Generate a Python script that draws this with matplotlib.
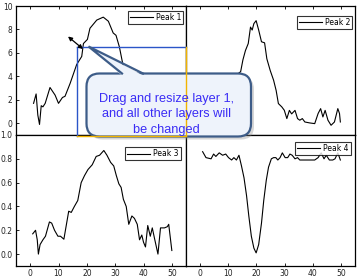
import matplotlib
matplotlib.use("Agg")
import matplotlib.pyplot as plt
from matplotlib.patches import FancyBboxPatch, Polygon

# ---------------- data ----------------
x1 = [1.2, 2.1, 2.7, 3.3, 3.9, 4.5, 5.3, 7.0, 8.8, 10.0, 11.4, 12.3, 14.1, 16.4, 18.2,
      18.8, 20.2, 21.1, 23.5, 25.8, 27.6, 29.3, 30.3, 31.5, 32.9, 33.9, 34.8, 35.9, 36.8, 37.8,
      38.6, 39.4, 40.0, 40.7, 41.5, 42.4, 43.1, 43.9, 45.1, 46.0, 47.4, 48.4, 48.9, 50.0]
y1 = [1.7, 2.5, 0.7, -0.1, 1.5, 1.4, 1.7, 3.05, 2.4, 1.7, 2.2, 2.3, 3.4, 5.0, 5.7,
      6.8, 7.15, 8.1, 8.8, 9.05, 8.7, 7.7, 7.5, 6.5, 4.8, 4.1, 2.6, 3.3, 3.1, 2.6,
      1.2, 1.6, 1.0, 0.6, 2.5, 1.5, 2.3, 1.3, 0.0, 2.3, 2.3, 2.4, 2.6, 0.3]

x2 = [1, 2, 3, 4, 5, 6, 7, 8, 9, 10, 11, 12, 13,
      13.6, 14.4, 15.2, 16.1, 17.1, 17.9, 18.5, 19.1, 19.9, 20.8, 21.8, 22.9, 23.7, 24.9, 26.1,
      27.0, 27.8, 29.0, 29.9, 30.8, 31.7, 32.5, 33.7, 34.6, 35.4, 36.3, 37.2, 38.9, 40.7, 41.9,
      42.8, 43.6, 44.4, 45.4, 46.5, 47.7, 48.9, 49.5, 49.8]
y2 = [0.8, 0.4, 1.1, 0.6, 0.9, 0.3, 1.0, 0.7, 1.3, 1.6, 2.2, 2.9, 3.6,
      4.25, 4.4, 5.4, 6.2, 6.8, 8.2, 7.95, 8.5, 8.75, 7.95, 6.95, 6.86, 5.5, 4.5, 3.67,
      2.8, 1.68, 1.4, 1.11, 0.4, 1.1, 0.8, 1.1, 0.4, 0.26, 0.4, 0.11, 0.03, -0.03, 0.83,
      1.25, 0.54, 1.1, 0.26, -0.17, 0.11, 1.25, 0.83, 0.11]

x3 = [0.9, 1.9, 2.5, 2.9, 3.5, 4.5, 5.4, 6.8, 7.6, 8.6, 9.8, 10.7, 11.9, 13.6, 14.5, 15.6,
      16.8, 18.0, 19.2, 20.4, 21.9, 23.3, 24.5, 26.0, 27.1, 28.4, 29.5, 30.4, 31.3, 32.1,
      32.9, 33.9, 34.8, 35.9, 36.8, 37.8, 38.6, 39.4, 40.0, 40.7, 41.5, 42.4, 43.1, 43.9,
      45.1, 46.0, 47.4, 48.4, 48.9, 50.0]
y3 = [0.17, 0.2, 0.12, 0.0, 0.08, 0.12, 0.15, 0.27, 0.26, 0.2, 0.15, 0.15, 0.125, 0.36, 0.35, 0.4,
      0.45, 0.6, 0.66, 0.71, 0.75, 0.82, 0.83, 0.87, 0.83, 0.77, 0.74, 0.66, 0.59, 0.56,
      0.46, 0.4, 0.25, 0.32, 0.3, 0.25, 0.12, 0.16, 0.1, 0.06, 0.24, 0.15, 0.22, 0.13,
      0.0, 0.22, 0.22, 0.23, 0.25, 0.03]

x4 = [0.9, 2.1, 3.9, 4.8, 5.6, 6.8, 8.0, 9.1, 10.1, 11.2, 12.0, 12.9, 13.8, 14.7, 15.6, 16.5,
      17.3, 18.2, 19.1, 19.9, 20.8, 21.8, 22.6, 23.5, 24.3, 25.3, 26.1, 26.9, 27.6, 28.4,
      29.2, 30.2, 31.1, 31.9, 32.7, 33.7, 34.6, 35.4, 37.2, 38.9, 40.7, 41.9, 43.0, 44.0,
      44.8, 45.9, 47.1, 47.9, 48.9, 49.8]
y4 = [0.86, 0.81, 0.8, 0.84, 0.82, 0.85, 0.83, 0.84, 0.81, 0.79, 0.81, 0.79, 0.83, 0.74, 0.64, 0.49,
      0.32, 0.15, 0.05, 0.01, 0.08, 0.26, 0.45, 0.62, 0.73, 0.8, 0.81, 0.81, 0.79, 0.81,
      0.85, 0.81, 0.81, 0.84, 0.83, 0.8, 0.81, 0.79, 0.79, 0.79, 0.79, 0.81, 0.85, 0.8,
      0.83, 0.79, 0.79, 0.8, 0.85, 0.79]

labels = ["Peak 1", "Peak 2", "Peak 3", "Peak 4"]
xticks = [0, 10, 20, 30, 40, 50]
yticks_top = [0, 2, 4, 6, 8, 10]
yticks_bot = [0.0, 0.2, 0.4, 0.6, 0.8, 1.0]
callout_lines = ["Drag and resize layer 1,", "and all other layers will", "be changed"]

# ---------------- figure ----------------
W, H = 361, 279
fig = plt.figure(figsize=(W / 100, H / 100), dpi=100)
fig.patch.set_facecolor("white")


def px_axes(x0, y0, x1_, y1_):
    return fig.add_axes([x0 / W, 1 - y1_ / H, (x1_ - x0) / W, (y1_ - y0) / H])


ax1 = px_axes(16, 6, 186, 135)
ax2 = px_axes(186, 6, 355, 135)
ax3 = px_axes(16, 135, 186, 266)
ax4 = px_axes(186, 135, 355, 266)

series = [(ax1, x1, y1), (ax2, x2, y2), (ax3, x3, y3), (ax4, x4, y4)]
legend_anchor = [(183.3, 11), (352.3, 15.7), (180.7, 147.3), (350.7, 141.7)]

for i, (ax, xs, ys) in enumerate(series):
    ax.plot(xs, ys, color="black", lw=0.8, label=labels[i])
    ax.set_xlim(-5, 55)
    if i < 2:
        ax.set_ylim(-1, 10)
    else:
        ax.set_ylim(-0.1, 1.0)
    for s in ax.spines.values():
        s.set_linewidth(0.9)
        s.set_color("black")
    ax.set_xticks(xticks)
    ax.tick_params(direction="in", length=2, width=0.6, pad=2.5, labelsize=5.5,
                   labelcolor="#222222")
    if i < 2:
        ax.tick_params(axis="x", bottom=False, top=True, labelbottom=False)
    else:
        ax.set_xticklabels([str(t) for t in xticks])
    if i % 2 == 0:
        ax.set_yticks(yticks_top if i < 2 else yticks_bot)
        if i == 0:
            ax.set_yticklabels([str(t) for t in yticks_top])
        else:
            ax.set_yticklabels(["%.1f" % t for t in yticks_bot])
    else:
        ax.set_yticks([])
    ax_x, ax_y = legend_anchor[i]
    leg = ax.legend(loc="upper right", bbox_to_anchor=(ax_x / W, 1 - ax_y / H),
                    bbox_transform=fig.transFigure, borderaxespad=0,
                    fancybox=False, frameon=True, edgecolor="black",
                    prop=dict(family="DejaVu Sans", size=5.5),
                    handlelength=3.0, handletextpad=0.4, borderpad=0.25)
    leg.get_frame().set_linewidth(0.8)

# ---------------- overlay (pixel coordinates) ----------------
ov = fig.add_axes([0, 0, 1, 1], zorder=10)
ov.set_xlim(0, W)
ov.set_ylim(H, 0)
ov.axis("off")
ov.patch.set_alpha(0)

blue = "#2a55c8"
orange = "#f2b400"
ov.plot([77.3, 186], [46.5, 46.5], color=blue, lw=1.0)
ov.plot([77.3, 77.3], [46.5, 135.5], color=blue, lw=1.0)
ov.plot([186.3, 186.3], [46.5, 135.5], color=orange, lw=1.0)
ov.plot([77.3, 186.3], [135.5, 135.5], color=orange, lw=1.0)

ov.annotate("", xy=(68, 36.5), xytext=(83, 49),
            arrowprops=dict(arrowstyle="<|-|>", color="black", lw=0.9,
                            mutation_scale=6, shrinkA=0, shrinkB=0))

# callout
bx0, by0, bw, bh = 86.5, 73.5, 164.5, 63
tip = (88.5, 46.5)
b1 = (122, 73.5)
b2 = (143, 73.5)
edge = "#3d5c88"
fill = "#eef3fb"
sh = 3
shadow_kw = dict(facecolor="#8a8a8a", edgecolor="none", alpha=0.35)
ov.add_patch(FancyBboxPatch((bx0 + sh, by0 + sh), bw, bh,
                            boxstyle="round,pad=0,rounding_size=13", **shadow_kw))
ov.add_patch(Polygon([(tip[0] + sh, tip[1] + sh), (b1[0] + sh, b1[1] + sh),
                      (b2[0] + sh, b2[1] + sh)], closed=True, **shadow_kw))
ov.add_patch(FancyBboxPatch((bx0, by0), bw, bh,
                            boxstyle="round,pad=0,rounding_size=13",
                            facecolor=fill, edgecolor=edge, lw=1.6))
ov.add_patch(Polygon([tip, (b1[0], b1[1] + 2), (b2[0], b2[1] + 2)], closed=True,
                     facecolor=fill, edgecolor="none"))
ov.plot([b1[0], tip[0], b2[0]], [b1[1], tip[1], b2[1]], color=edge, lw=1.6,
        solid_joinstyle="miter")

for k, (line, yb) in enumerate(zip(callout_lines, [101.7, 117.2, 132.7])):
    ov.text(166.5, yb, line, ha="center", va="baseline", color="#3a2cf5",
            family="Liberation Sans", fontsize=9.2)

fig.savefig("out.png", dpi=100, facecolor="white")
